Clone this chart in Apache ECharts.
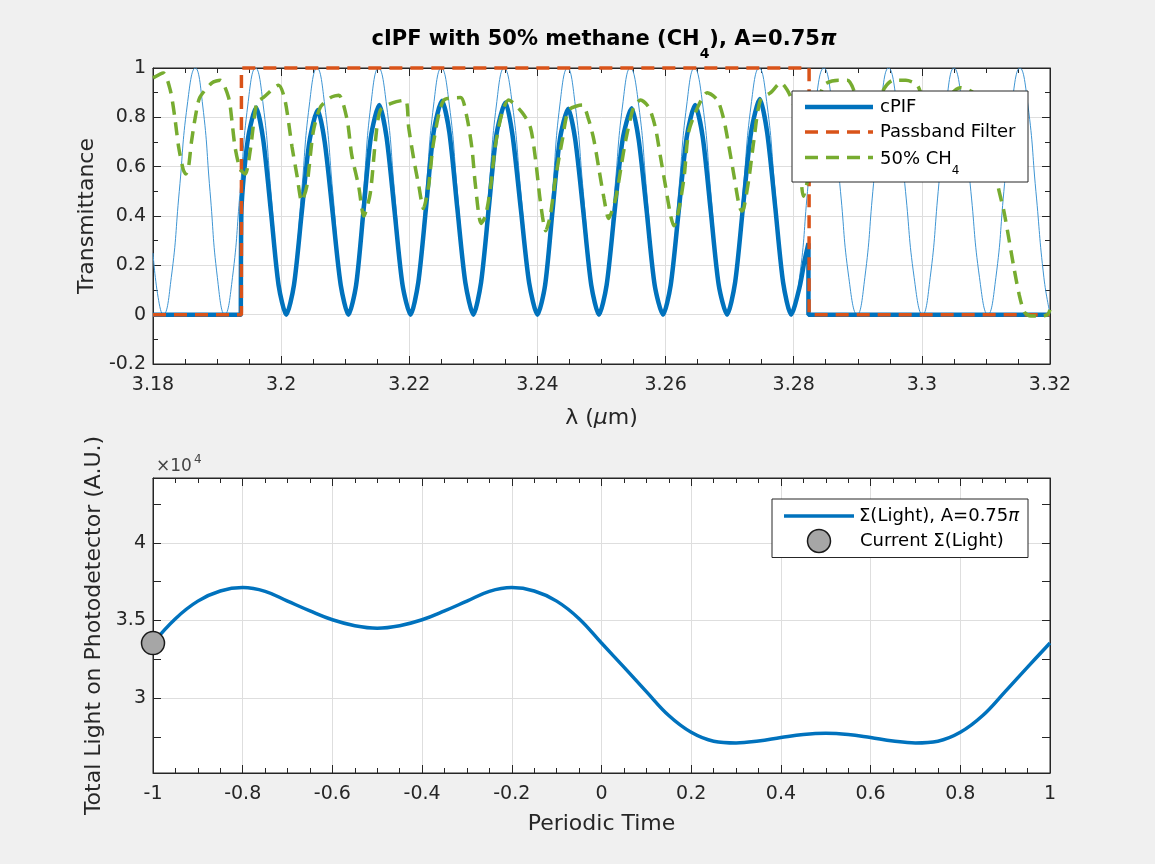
<!DOCTYPE html>
<html><head><meta charset="utf-8">
<script src="https://cdn.jsdelivr.net/npm/echarts@6/dist/echarts.min.js"></script>
<style>html,body{margin:0;padding:0;background:#f0f0f0;}#c{width:1155px;height:864px;}</style>
</head><body><div id="c"></div>
<script>
// ---------- data ----------
// unfiltered interferometric filter transmission [lambda (um), T]
const cpifRaw = [
[3.18,0.25],[3.1808,0.07],[3.1816,0],
[3.18285,0.15],[3.1841,0.5],[3.18535,0.85],[3.1866,1],
[3.18775,0.85],[3.1889,0.5],[3.19005,0.15],[3.1912,0],
[3.1924,0.15],[3.1936,0.5],[3.1948,0.85],[3.196,1],
[3.1972,0.85],[3.1984,0.5],[3.1996,0.15],[3.2008,0],
[3.202,0.15],[3.2032,0.5],[3.2044,0.85],[3.2056,1],
[3.2068,0.85],[3.20805,0.5],[3.2093,0.15],[3.2105,0],
[3.2117,0.15],[3.21285,0.5],[3.214,0.85],[3.2152,1],
[3.21645,0.85],[3.2177,0.5],[3.21895,0.15],[3.2202,0],
[3.2214,0.15],[3.2226,0.5],[3.2238,0.85],[3.225,1],
[3.22625,0.85],[3.2275,0.5],[3.22875,0.15],[3.23,0],
[3.2312,0.15],[3.2324,0.5],[3.2336,0.85],[3.2348,1],
[3.2361,0.85],[3.2374,0.5],[3.2387,0.15],[3.24,0],
[3.2412,0.15],[3.24235,0.5],[3.2435,0.85],[3.2447,1],
[3.2459,0.85],[3.24715,0.5],[3.2484,0.15],[3.2496,0],
[3.2508,0.15],[3.25205,0.5],[3.2533,0.85],[3.2545,1],
[3.2558,0.85],[3.25705,0.5],[3.2583,0.15],[3.2596,0],
[3.2608,0.15],[3.26205,0.5],[3.2633,0.85],[3.2645,1],
[3.2658,0.85],[3.26705,0.5],[3.2683,0.15],[3.2696,0],
[3.27085,0.15],[3.2721,0.5],[3.27335,0.85],[3.2746,1],
[3.27585,0.85],[3.2771,0.5],[3.27835,0.15],[3.2796,0],
[3.2809,0.15],[3.28215,0.5],[3.2834,0.85],[3.2847,1],
[3.286,0.85],[3.2873,0.5],[3.2886,0.15],[3.2899,0],
[3.2911,0.15],[3.29235,0.5],[3.2936,0.85],[3.2948,1],
[3.2961,0.85],[3.29745,0.5],[3.2988,0.15],[3.3001,0],
[3.3013,0.15],[3.30255,0.5],[3.3038,0.85],[3.305,1],
[3.3063,0.85],[3.30765,0.5],[3.309,0.15],[3.3103,0],
[3.31155,0.15],[3.3128,0.5],[3.31405,0.85],[3.3153,1],
[3.31655,0.85],[3.3178,0.5],[3.31905,0.15],[3.32,0.005]
];
// cPIF (filtered by passband)
const cpif = [
[3.18,0],[3.1937,0],[3.1938,0],[3.1938,0.42],[3.1948,0.71],[3.1961,0.84],[3.1972,0.71],[3.1984,0.42],[3.1996,0.12],[3.2008,0],
[3.202,0.12],[3.2032,0.41],[3.2044,0.7],[3.2057,0.83],[3.2068,0.7],[3.20805,0.41],[3.2093,0.12],[3.2105,0],
[3.2117,0.12],[3.21285,0.42],[3.214,0.72],[3.2153,0.85],[3.21645,0.72],[3.2177,0.42],[3.21895,0.12],[3.2202,0],
[3.2214,0.13],[3.2226,0.43],[3.2238,0.74],[3.2251,0.867],[3.22625,0.74],[3.2275,0.43],[3.22875,0.13],[3.23,0],
[3.2312,0.13],[3.2324,0.43],[3.2336,0.73],[3.235,0.86],[3.2361,0.73],[3.2374,0.43],[3.2387,0.13],[3.24,0],
[3.2412,0.12],[3.24235,0.42],[3.2435,0.71],[3.2448,0.835],[3.2459,0.71],[3.24715,0.42],[3.2484,0.12],[3.2496,0],
[3.2508,0.12],[3.25205,0.42],[3.2533,0.71],[3.2547,0.837],[3.2558,0.71],[3.25705,0.42],[3.2583,0.12],[3.2596,0],
[3.2608,0.12],[3.26205,0.42],[3.2633,0.72],[3.2646,0.85],[3.2658,0.72],[3.26705,0.42],[3.2683,0.12],[3.2696,0],
[3.27085,0.13],[3.2721,0.44],[3.27335,0.74],[3.2747,0.874],[3.27585,0.74],[3.2771,0.44],[3.27835,0.13],[3.2796,0],
[3.2809,0.11],[3.2817,0.22],[3.2823,0.29],[3.2823,0],[3.2824,0],[3.32,0]
];
const passband = [[3.18,0],[3.1938,0],[3.1938,1],[3.2824,1],[3.2824,0],[3.32,0]];
const ch4 = [
[3.18,0.96],[3.1816,0.98],[3.1827,0.91],[3.1834,0.8],[3.184,0.68],[3.1847,0.59],[3.1851,0.57],[3.1855,0.59],[3.186,0.7],[3.1866,0.8],
[3.1873,0.88],[3.1892,0.94],[3.1905,0.95],[3.1918,0.88],[3.1923,0.79],[3.1928,0.68],[3.1936,0.59],[3.1944,0.57],[3.1952,0.67],[3.1962,0.86],
[3.1972,0.88],[3.1996,0.93],[3.2006,0.87],[3.2017,0.68],[3.2025,0.56],[3.2032,0.46],[3.204,0.52],[3.205,0.74],[3.2061,0.84],[3.2077,0.88],
[3.209,0.89],[3.2103,0.79],[3.211,0.65],[3.2121,0.52],[3.2129,0.4],[3.2139,0.49],[3.2147,0.7],[3.2155,0.83],[3.2175,0.86],[3.2194,0.87],
[3.2199,0.76],[3.2207,0.63],[3.2215,0.52],[3.2222,0.43],[3.223,0.52],[3.2238,0.7],[3.2254,0.87],[3.228,0.88],[3.229,0.8],[3.2298,0.67],
[3.2303,0.53],[3.2312,0.37],[3.2319,0.4],[3.2327,0.52],[3.2334,0.68],[3.2345,0.82],[3.2355,0.87],[3.2376,0.82],[3.2389,0.76],[3.2397,0.63],
[3.2405,0.45],[3.2413,0.34],[3.242,0.4],[3.2428,0.55],[3.2439,0.71],[3.2449,0.83],[3.247,0.85],[3.248,0.79],[3.2488,0.71],[3.2496,0.59],
[3.2504,0.47],[3.2511,0.39],[3.2522,0.47],[3.253,0.59],[3.2538,0.71],[3.255,0.84],[3.2561,0.87],[3.2574,0.84],[3.2584,0.76],[3.2592,0.64],
[3.26,0.52],[3.2608,0.4],[3.2613,0.36],[3.2621,0.43],[3.2629,0.56],[3.2636,0.74],[3.265,0.84],[3.2665,0.9],[3.2681,0.87],[3.2691,0.79],
[3.2699,0.68],[3.2707,0.56],[3.2715,0.44],[3.2719,0.42],[3.2722,0.43],[3.273,0.55],[3.2738,0.71],[3.2748,0.87],[3.2764,0.9],[3.278,0.94],
[3.279,0.91],[3.28,0.85],[3.2808,0.68],[3.2815,0.48],[3.2822,0.55],[3.2832,0.78],[3.2847,0.93],[3.287,0.95],[3.2884,0.95],[3.2895,0.9],
[3.2905,0.75],[3.2915,0.6],[3.2925,0.72],[3.2938,0.9],[3.2955,0.95],[3.2975,0.95],[3.2993,0.93],[3.3003,0.85],[3.3012,0.7],[3.302,0.62],
[3.303,0.75],[3.3042,0.88],[3.306,0.92],[3.308,0.9],[3.3095,0.84],[3.311,0.68],[3.3119,0.52],[3.3128,0.42],[3.3135,0.32],[3.3143,0.2],
[3.3152,0.08],[3.316,0.01],[3.317,-0.005],[3.3185,-0.005],[3.3196,0],[3.32,0.02]
];
const periodicTime = [-1,-0.95,-0.9,-0.85,-0.8,-0.75,-0.7,-0.65,-0.6,-0.55,-0.5,-0.45,-0.4,-0.35,-0.3,-0.25,-0.2,-0.15,-0.1,-0.05,
  0,0.05,0.1,0.15,0.2,0.25,0.3,0.35,0.4,0.45,0.5,0.55,0.6,0.65,0.7,0.75,0.8,0.85,0.9,0.95,1];
const totalLight = [33550,35120,36250,36900,37120,36880,36250,35620,35050,34670,34510,34670,35050,35620,36250,36880,37120,36900,36250,35120,
  33550,32000,30420,28880,27800,27230,27120,27240,27460,27660,27740,27660,27460,27240,27120,27230,27800,28880,30420,32000,33550];
const currentPoint = [-1, 33550];
const topXTicks = {min: 3.18, max: 3.32, step: 0.02};
const topYTicks = {min: -0.2, max: 1, step: 0.2};
const botXTicks = {min: -1, max: 1, step: 0.2};
const botYRange = {min: 25180, max: 44180};
const botYLabels = [30000, 35000, 40000];
const botYTickMarks = [27500, 30000, 32500, 35000, 37500, 40000, 42500];

// ---------- styling ----------
const FONT = 'DejaVu Sans';
const INK = '#262626';
const GRIDC = '#dedede';
const tickStyle = {inside: true, length: 8, lineStyle: {color: INK, width: 1}};
const minor = n => ({show: true, splitNumber: n, length: 5, lineStyle: {color: INK, width: 1}});
const lbl = {fontSize: 19, fontFamily: FONT, color: INK};
const nameStyle = {fontSize: 22, fontFamily: FONT, color: INK};

function xAx(grid, r, pos, withLabel, extra) {
  return Object.assign({
    gridIndex: grid, type: 'value', position: pos, min: r.min, max: r.max, interval: r.step,
    axisLine: {show: true, onZero: false, lineStyle: {color: INK, width: 1}},
    axisTick: tickStyle, minorTick: minor(4),
    axisLabel: withLabel ? Object.assign({margin: 12, showMinLabel: true, showMaxLabel: true}, lbl) : {show: false},
    splitLine: {show: withLabel, lineStyle: {color: GRIDC, width: 1}}
  }, extra || {});
}
function yAx(grid, r, pos, withLabel, extra) {
  return Object.assign({
    gridIndex: grid, type: 'value', position: pos, min: r.min, max: r.max, interval: r.step,
    axisLine: {show: true, onZero: false, lineStyle: {color: INK, width: 1}},
    axisTick: tickStyle, minorTick: minor(2),
    axisLabel: withLabel ? Object.assign({margin: 7, showMinLabel: true, showMaxLabel: true}, lbl) : {show: false},
    splitLine: {show: withLabel, lineStyle: {color: GRIDC, width: 1}}
  }, extra || {});
}

const chart = echarts.init(document.getElementById('c'), null, {renderer: 'canvas'});
const option = {
  animation: false,
  backgroundColor: '#f0f0f0',
  grid: [
    {left: 153, top: 68, width: 897, height: 296, show: true, backgroundColor: '#ffffff', borderColor: INK, borderWidth: 1},
    {left: 153, top: 478, width: 897, height: 295, show: true, backgroundColor: '#ffffff', borderColor: INK, borderWidth: 1}
  ],
  xAxis: [
    xAx(0, topXTicks, 'bottom', true, {
      name: '{n|λ (}{m|μ}{n|m)}', nameLocation: 'middle', nameGap: 43,
      nameTextStyle: {rich: {n: nameStyle, m: Object.assign({fontStyle: 'italic'}, nameStyle)}}
    }),
    xAx(0, topXTicks, 'top', false),
    xAx(1, botXTicks, 'bottom', true, {
      name: 'Periodic Time', nameLocation: 'middle', nameGap: 40, nameTextStyle: nameStyle
    }),
    xAx(1, botXTicks, 'top', false)
  ],
  yAxis: [
    yAx(0, topYTicks, 'left', true, {
      name: 'Transmittance', nameLocation: 'middle', nameGap: 54, nameRotate: 90, nameTextStyle: nameStyle
    }),
    yAx(0, topYTicks, 'right', false),
    {
      gridIndex: 1, type: 'value', position: 'left', min: botYRange.min, max: botYRange.max,
      axisLine: {show: true, onZero: false, lineStyle: {color: INK, width: 1}},
      axisTick: Object.assign({customValues: botYTickMarks}, tickStyle),
      axisLabel: Object.assign({margin: 7, customValues: botYLabels, formatter: v => String(+(v / 10000).toFixed(2))}, lbl),
      splitLine: {show: false},
      name: 'Total Light on Photodetector (A.U.)', nameLocation: 'middle', nameGap: 45, nameRotate: 90, nameTextStyle: nameStyle
    },
    {
      gridIndex: 1, type: 'value', position: 'right', min: botYRange.min, max: botYRange.max,
      axisLine: {show: true, onZero: false, lineStyle: {color: INK, width: 1}},
      axisTick: Object.assign({customValues: botYTickMarks}, tickStyle),
      axisLabel: {show: false}, splitLine: {show: false}
    },
    {
      gridIndex: 1, type: 'value', position: 'left', min: botYRange.min, max: botYRange.max, splitNumber: 4,
      axisLine: {show: false}, axisTick: {show: false}, axisLabel: {show: false},
      splitLine: {show: true, lineStyle: {color: GRIDC, width: 1}}
    }
  ],
  series: [
    {type: 'line', name: 'raw', xAxisIndex: 0, yAxisIndex: 0, data: cpifRaw, showSymbol: false, symbol: 'none',
     smooth: 0.5, lineStyle: {color: '#3f95d3', width: 1}, z: 2},
    {type: 'line', name: 'cPIF', xAxisIndex: 0, yAxisIndex: 0, data: cpif, showSymbol: false, symbol: 'none',
     smooth: 0.25, lineStyle: {color: '#0072BD', width: 4.5}, z: 3},
    {type: 'line', name: 'Passband Filter', xAxisIndex: 0, yAxisIndex: 0, data: passband, showSymbol: false, symbol: 'none',
     clip: false, lineStyle: {color: '#D95319', width: 3.5, type: [13, 8]}, z: 4},
    {type: 'line', name: '50% CH4', xAxisIndex: 0, yAxisIndex: 0, data: ch4, showSymbol: false, symbol: 'none',
     smooth: 0.25, lineStyle: {color: '#77AC30', width: 3.5, type: [13, 8]}, z: 5},
    {type: 'line', name: 'light', xAxisIndex: 2, yAxisIndex: 2, data: periodicTime.map((t, i) => [t, totalLight[i]]),
     showSymbol: false, symbol: 'none', smooth: 0.4, lineStyle: {color: '#0072BD', width: 3.5}, z: 3},
    {type: 'scatter', name: 'current', xAxisIndex: 2, yAxisIndex: 2, data: [currentPoint], symbol: 'circle', symbolSize: 23,
     clip: false, itemStyle: {color: '#a6a6a6', borderColor: '#1a1a1a', borderWidth: 1.5, opacity: 1}, z: 6}
  ],
  graphic: {elements: [
    // title
    {type: 'text', x: 604, y: 29, z: 50, style: {
      text: '{t|cIPF with 50% methane (CH}{s|4}{t|), A=0.75}{p|π}', align: 'center', verticalAlign: 'top',
      rich: {
        t: {fontSize: 21, fontWeight: 'bold', fontFamily: FONT, fill: '#000', lineHeight: 21, verticalAlign: 'top'},
        s: {fontSize: 14, fontWeight: 'bold', fontFamily: FONT, fill: '#000', lineHeight: 14, padding: [18, 0, 0, 0], verticalAlign: 'top'},
        p: {fontSize: 21, fontWeight: 'bold', fontStyle: 'italic', fontFamily: FONT, fill: '#000', lineHeight: 21, verticalAlign: 'top'}
      }}},
    // x10^4
    {type: 'text', x: 156, y: 475, z: 50, style: {text: '×10', fontSize: 17, fontFamily: FONT, fill: '#444', align: 'left', verticalAlign: 'bottom'}},
    {type: 'text', x: 194, y: 466, z: 50, style: {text: '4', fontSize: 12, fontFamily: FONT, fill: '#444', align: 'left', verticalAlign: 'bottom'}},
    // top legend
    {type: 'rect', z: 50, shape: {x: 792, y: 91, width: 236, height: 91}, style: {fill: '#fff', stroke: INK, lineWidth: 1}},
    {type: 'line', z: 51, shape: {x1: 805, y1: 107, x2: 873, y2: 107}, style: {stroke: '#0072BD', lineWidth: 4.5}},
    {type: 'line', z: 51, shape: {x1: 805, y1: 132, x2: 873, y2: 132}, style: {stroke: '#D95319', lineWidth: 3.5, lineDash: [13, 8]}},
    {type: 'line', z: 51, shape: {x1: 805, y1: 157.5, x2: 873, y2: 157.5}, style: {stroke: '#77AC30', lineWidth: 3.5, lineDash: [13, 8]}},
    {type: 'text', z: 51, x: 880, y: 107.5, style: {text: 'cPIF', fontSize: 18, fontFamily: FONT, fill: '#000', verticalAlign: 'middle'}},
    {type: 'text', z: 51, x: 880, y: 132.5, style: {text: 'Passband Filter', fontSize: 18, fontFamily: FONT, fill: '#000', verticalAlign: 'middle'}},
    {type: 'text', z: 51, x: 880, y: 150, style: {text: '{t|50% CH}{s|4}', verticalAlign: 'top', rich: {
      t: {fontSize: 18, fontFamily: FONT, fill: '#000', lineHeight: 18, verticalAlign: 'top'},
      s: {fontSize: 12, fontFamily: FONT, fill: '#000', lineHeight: 12, padding: [15, 0, 0, 0], verticalAlign: 'top'}}}},
    // bottom legend
    {type: 'rect', z: 50, shape: {x: 772, y: 499, width: 256, height: 58.5}, style: {fill: '#fff', stroke: INK, lineWidth: 1}},
    {type: 'line', z: 51, shape: {x1: 784, y1: 516, x2: 854, y2: 516}, style: {stroke: '#0072BD', lineWidth: 3.5}},
    {type: 'circle', z: 51, shape: {cx: 819, cy: 541, r: 11.5}, style: {fill: '#a6a6a6', stroke: '#1a1a1a', lineWidth: 1.5}},
    {type: 'text', z: 51, x: 859, y: 516.5, style: {text: '{t|Σ(Light), A=0.75}{p|π}', verticalAlign: 'middle', rich: {
      t: {fontSize: 18, fontFamily: FONT, fill: '#000'},
      p: {fontSize: 18, fontFamily: FONT, fontStyle: 'italic', fill: '#000'}}}},
    {type: 'text', z: 51, x: 860, y: 541, style: {text: 'Current Σ(Light)', fontSize: 18, fontFamily: FONT, fill: '#000', verticalAlign: 'middle'}}
  ]}
};
chart.setOption(option);
</script>
</body></html>
